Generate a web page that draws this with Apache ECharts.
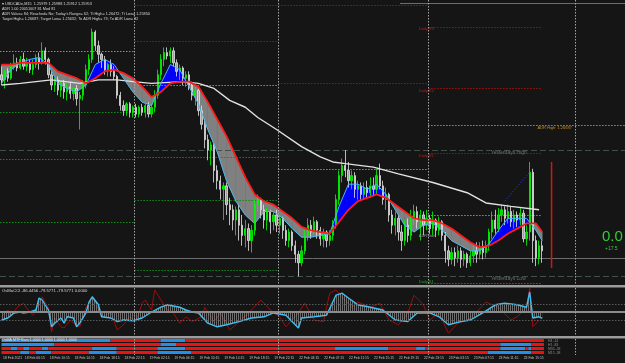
<!DOCTYPE html>
<html><head><meta charset="utf-8">
<script src="https://cdn.jsdelivr.net/npm/echarts/dist/echarts.min.js"></script>
<style>html,body{margin:0;padding:0;background:#151515;}#c{width:625px;height:363px;}</style>
</head><body><div id="c"></div>
<script>
// ---------- DATA ----------
const daySegments = [['18 Feb',2,45,43],['19 Feb',0,15,46],['22 Feb',0,15,48],['23 Feb',0,15,48],['24 Feb',0,15,15]];
const firstTickLabel = '18 Feb 2021';
const lastLabelledBar = 173;

// [open, close, low, high]
const candles = [
[1.2698,1.2695,1.2692,1.2703],[1.2695,1.2700,1.2690,1.2701],[1.2700,1.2696,1.2694,1.2702],[1.2696,1.2703,1.2695,1.2705],
[1.2703,1.2705,1.2701,1.2710],[1.2705,1.2702,1.2700,1.2708],[1.2702,1.2707,1.2701,1.2709],[1.2707,1.2703,1.2701,1.2711],
[1.2703,1.2705,1.2700,1.2708],[1.2705,1.2701,1.2699,1.2707],[1.2701,1.2704,1.2698,1.2707],[1.2704,1.2708,1.2702,1.2710],
[1.2708,1.2705,1.2701,1.2711],[1.2705,1.2712,1.2704,1.2717],[1.2712,1.2707,1.2704,1.2714],[1.2707,1.2698,1.2696,1.2708],
[1.2698,1.2692,1.2689,1.2700],[1.2692,1.2695,1.2688,1.2696],[1.2695,1.2689,1.2686,1.2697],[1.2689,1.2693,1.2685,1.2694],
[1.2693,1.2688,1.2684,1.2695],[1.2688,1.2691,1.2683,1.2693],[1.2691,1.2687,1.2684,1.2694],[1.2687,1.2690,1.2683,1.2691],
[1.2690,1.2684,1.2680,1.2692],[1.2684,1.2686,1.2666,1.2688],[1.2686,1.2692,1.2683,1.2695],[1.2692,1.2701,1.2690,1.2704],
[1.2701,1.2707,1.2698,1.2710],[1.2707,1.2723,1.2705,1.2725],[1.2723,1.2715,1.2712,1.2724],[1.2715,1.2710,1.2705,1.2718],
[1.2710,1.2707,1.2702,1.2711],[1.2707,1.2701,1.2698,1.2709],[1.2701,1.2704,1.2697,1.2705],[1.2704,1.2700,1.2697,1.2707],
[1.2700,1.2697,1.2695,1.2703],[1.2697,1.2686,1.2684,1.2698],[1.2686,1.2680,1.2677,1.2688],[1.2680,1.2677,1.2674,1.2683],
[1.2677,1.2681,1.2674,1.2682],[1.2681,1.2676,1.2673,1.2682],[1.2676,1.2679,1.2673,1.2680],[1.2679,1.2675,1.2673,1.2681],
[1.2675,1.2679,1.2673,1.2680],[1.2679,1.2676,1.2674,1.2681],[1.2676,1.2680,1.2673,1.2681],[1.2680,1.2675,1.2673,1.2682],
[1.2675,1.2679,1.2673,1.2681],[1.2679,1.2686,1.2676,1.2689],[1.2686,1.2698,1.2684,1.2701],[1.2698,1.2707,1.2695,1.2710],
[1.2707,1.2711,1.2703,1.2714],[1.2711,1.2709,1.2707,1.2714],[1.2709,1.2712,1.2705,1.2714],[1.2712,1.2705,1.2703,1.2714],
[1.2705,1.2700,1.2697,1.2707],[1.2700,1.2702,1.2695,1.2704],[1.2702,1.2696,1.2692,1.2703],[1.2696,1.2698,1.2691,1.2700],
[1.2698,1.2692,1.2689,1.2700],[1.2692,1.2686,1.2683,1.2694],[1.2686,1.2689,1.2680,1.2691],[1.2689,1.2677,1.2674,1.2690],
[1.2677,1.2669,1.2666,1.2680],[1.2669,1.2660,1.2655,1.2672],[1.2660,1.2654,1.2648,1.2663],[1.2654,1.2657,1.2645,1.2659],
[1.2657,1.2642,1.2635,1.2658],[1.2642,1.2636,1.2631,1.2645],[1.2636,1.2631,1.2625,1.2639],[1.2631,1.2633,1.2613,1.2635],
[1.2633,1.2622,1.2616,1.2635],[1.2622,1.2619,1.2610,1.2626],[1.2619,1.2613,1.2607,1.2622],[1.2613,1.2619,1.2604,1.2621],
[1.2619,1.2610,1.2601,1.2622],[1.2610,1.2604,1.2598,1.2616],[1.2604,1.2608,1.2597,1.2613],[1.2608,1.2601,1.2595,1.2611],
[1.2601,1.2607,1.2594,1.2610],[1.2607,1.2622,1.2604,1.2625],[1.2622,1.2625,1.2618,1.2628],[1.2625,1.2619,1.2614,1.2626],
[1.2619,1.2613,1.2608,1.2622],[1.2613,1.2618,1.2607,1.2620],[1.2618,1.2612,1.2605,1.2619],[1.2612,1.2616,1.2607,1.2618],
[1.2616,1.2610,1.2606,1.2619],[1.2610,1.2614,1.2605,1.2616],[1.2614,1.2607,1.2602,1.2615],[1.2607,1.2601,1.2598,1.2610],
[1.2601,1.2606,1.2597,1.2608],[1.2606,1.2598,1.2595,1.2607],[1.2598,1.2593,1.2588,1.2601],[1.2593,1.2588,1.2580,1.2595],
[1.2588,1.2595,1.2586,1.2598],[1.2595,1.2604,1.2593,1.2607],[1.2604,1.2610,1.2601,1.2614],[1.2610,1.2606,1.2602,1.2613],
[1.2606,1.2612,1.2604,1.2615],[1.2612,1.2607,1.2602,1.2613],[1.2607,1.2602,1.2598,1.2609],[1.2602,1.2606,1.2597,1.2608],
[1.2606,1.2601,1.2597,1.2607],[1.2601,1.2604,1.2598,1.2607],[1.2604,1.2610,1.2601,1.2613],[1.2610,1.2625,1.2608,1.2628],
[1.2625,1.2639,1.2622,1.2642],[1.2639,1.2645,1.2635,1.2649],[1.2645,1.2642,1.2638,1.2654],[1.2642,1.2636,1.2632,1.2647],
[1.2636,1.2639,1.2631,1.2642],[1.2639,1.2631,1.2626,1.2641],[1.2631,1.2633,1.2625,1.2636],[1.2633,1.2628,1.2625,1.2635],
[1.2628,1.2632,1.2625,1.2635],[1.2632,1.2629,1.2626,1.2636],[1.2629,1.2633,1.2626,1.2638],[1.2633,1.2631,1.2627,1.2638],
[1.2631,1.2639,1.2628,1.2643],[1.2639,1.2633,1.2631,1.2646],[1.2633,1.2625,1.2622,1.2636],[1.2625,1.2628,1.2619,1.2632],
[1.2628,1.2616,1.2612,1.2629],[1.2616,1.2610,1.2605,1.2619],[1.2610,1.2614,1.2604,1.2618],[1.2614,1.2606,1.2601,1.2616],
[1.2606,1.2601,1.2595,1.2610],[1.2601,1.2610,1.2598,1.2613],[1.2610,1.2604,1.2600,1.2614],[1.2604,1.2613,1.2601,1.2619],
[1.2613,1.2618,1.2610,1.2622],[1.2618,1.2612,1.2608,1.2621],[1.2612,1.2616,1.2601,1.2619],[1.2616,1.2610,1.2604,1.2618],
[1.2610,1.2614,1.2607,1.2619],[1.2614,1.2608,1.2605,1.2616],[1.2608,1.2613,1.2604,1.2618],[1.2613,1.2607,1.2603,1.2614],
[1.2607,1.2612,1.2604,1.2615],[1.2612,1.2604,1.2601,1.2613],[1.2604,1.2595,1.2588,1.2606],[1.2595,1.2590,1.2586,1.2598],
[1.2590,1.2594,1.2587,1.2597],[1.2594,1.2591,1.2586,1.2597],[1.2591,1.2595,1.2588,1.2598],[1.2595,1.2590,1.2585,1.2597],
[1.2590,1.2593,1.2586,1.2595],[1.2593,1.2588,1.2585,1.2594],[1.2588,1.2592,1.2586,1.2595],[1.2592,1.2595,1.2588,1.2598],
[1.2595,1.2593,1.2588,1.2600],[1.2593,1.2597,1.2590,1.2600],[1.2597,1.2594,1.2590,1.2601],[1.2594,1.2598,1.2591,1.2601],
[1.2598,1.2606,1.2595,1.2608],[1.2606,1.2613,1.2602,1.2618],[1.2613,1.2608,1.2605,1.2619],[1.2608,1.2616,1.2606,1.2620],
[1.2616,1.2619,1.2612,1.2622],[1.2619,1.2614,1.2610,1.2621],[1.2614,1.2618,1.2611,1.2622],[1.2618,1.2612,1.2609,1.2621],
[1.2612,1.2616,1.2608,1.2619],[1.2616,1.2613,1.2609,1.2618],[1.2613,1.2617,1.2610,1.2620],[1.2617,1.2602,1.2600,1.2619],
[1.2602,1.2606,1.2598,1.2610],[1.2606,1.2641,1.2601,1.2647],[1.2641,1.2601,1.2588,1.2643],[1.2601,1.2591,1.2586,1.2604],
[1.2591,1.2598,1.2587,1.2601],[1.2598,1.2595,1.2588,1.2601]
];

// moving averages [barIndex, price]
const slowMA = [[0,1.2704],[3,1.2704],[6,1.2705],[9,1.2705],[12,1.2705],[15,1.2705],[18,1.2700],[21,1.2698],[24,1.2696],[27,1.2693],[30,1.2696],[33,1.2700],[36,1.2701],[39,1.2699],[42,1.2696],[45,1.2691],[48,1.2685],[51,1.2688],[54,1.2693],[57,1.2694],[60,1.2694],[63,1.2691],[66,1.2682],[69,1.2672],[72,1.2662],[75,1.2650],[78,1.2638],[81,1.2628],[84,1.2624],[87,1.2622],[90,1.2618],[93,1.2614],[96,1.2609],[99,1.2607],[102,1.2606],[105,1.2605],[108,1.2612],[111,1.2619],[114,1.2624],[117,1.2626],[120,1.2628],[123,1.2626],[126,1.2622],[129,1.2618],[132,1.2614],[135,1.2613],[138,1.2613],[141,1.2611],[144,1.2608],[147,1.2604],[150,1.2600],[153,1.2597],[156,1.2598],[159,1.2601],[162,1.2605],[165,1.2608],[168,1.2611],[171,1.2611],[173,1.2606]];
const fastMA = [[0,1.2693],[3,1.2701],[6,1.2705],[9,1.2707],[12,1.2708],[15,1.2704],[18,1.2693],[21,1.2690],[24,1.2688],[27,1.2692],[30,1.2704],[33,1.2707],[36,1.2704],[39,1.2696],[42,1.2688],[45,1.2682],[48,1.2680],[51,1.2693],[54,1.2704],[57,1.2701],[60,1.2691],[63,1.2681],[66,1.2666],[69,1.2653],[72,1.2636],[75,1.2624],[78,1.2616],[81,1.2611],[84,1.2618],[87,1.2618],[90,1.2614],[93,1.2608],[96,1.2603],[99,1.2603],[102,1.2604],[105,1.2605],[108,1.2621],[111,1.2634],[114,1.2634],[117,1.2631],[120,1.2634],[123,1.2628],[126,1.2619],[129,1.2610],[132,1.2606],[135,1.2610],[138,1.2611],[141,1.2607],[144,1.2601],[147,1.2598],[150,1.2595],[153,1.2595],[156,1.2599],[159,1.2607],[162,1.2614],[165,1.2614],[168,1.2614],[171,1.2607],[173,1.2601]];
const longMA = [[0,1.2692],[6,1.2693],[16,1.2695],[25,1.2693],[31,1.2695],[37,1.2695],[42,1.2694],[48,1.2693],[58,1.2694],[63,1.2693],[68,1.2690],[73,1.2683],[78,1.2679],[82,1.2673],[88,1.2666],[96,1.2656],[102,1.2650],[106,1.2647],[110,1.2646],[119,1.2644],[127,1.2640],[138,1.2635],[149,1.2629],[155,1.2623],[163,1.2621],[172,1.2619]];

// levels [startBar, endBar, price, kind]
const yesterdayHigh = 1.2654, yesterdayLow = 1.2580, greyLevel = 1.2591;
const pivotLevels = [
[0,42,1.2712,'P'],[0,42,1.2676,'S'],[0,42,1.2649,'S'],[0,42,1.2612,'S'],
[43,88,1.2718,'R'],[43,88,1.2692,'P'],[43,88,1.2650,'S'],[43,88,1.2625,'S'],[43,88,1.2584,'S'],
[89,136,1.2693,'R'],[89,136,1.2643,'P'],
[137,172,1.2726,'R'],[137,172,1.2690,'R'],[137,172,1.2652,'R'],[137,172,1.2616,'P'],[137,172,1.2576,'S'],
[137,199,1.26687,'A'],[43,136,1.2739,'R'],[128,199,1.2740,'G'],
[0,199,yesterdayHigh,'D'],[0,199,yesterdayLow,'D'],[0,199,greyLevel,'G']
];
// [text, bar, price, colour, dy, size]
const levelLabels = [
['Daily R3',134,1.2726,'#c41c1c',2,4],['Daily R2',134,1.2690,'#c41c1c',2.5,4],['Daily R1',134,1.2652,'#c41c1c',2,4],
['Daily S1',134,1.2576,'#24a624',-1.5,4],['ADR High: 1.26687',172,1.26687,'#cc9020',3.5,4],
['Yesterdays High',157,1.2654,'#6e6e6e',3,5],['Yesterdays Low',157,1.2580,'#6e6e6e',2,5],['ADRStart',134,1.2604,'#9a9a9a',0,4]
];
const separatorBars = [43,89,137,184];
const todayRangeBar = 176, todayRange = [1.2585,1.2647];
const tradeLine = [[161,1.2624],[169,1.2641]];

// oscillator [barIndex, value]
const oscLevels = [-100,0,100];
const oscFast = [[0,-100],[2,-75],[4,-12],[6,0],[7,-12],[9,0],[11,25],[12,175],[13,150],[15,25],[16,-185],[17,-140],[19,-75],[20,-140],[21,-60],[23,-75],[24,-185],[25,-140],[27,-12],[28,125],[29,190],[31,90],[32,-60],[35,-75],[37,-120],[39,-100],[42,-110],[45,-75],[48,0],[51,60],[53,90],[55,75],[57,60],[59,25],[61,0],[63,-12],[66,-140],[69,-185],[72,-160],[76,-120],[80,-75],[84,-60],[87,-12],[91,-40],[95,-200],[96,-75],[100,-60],[104,-40],[107,210],[109,235],[111,175],[114,90],[118,60],[122,25],[126,-100],[130,-120],[133,-12],[137,-12],[140,-60],[143,-160],[147,-120],[150,-100],[154,-12],[158,90],[161,110],[165,90],[168,60],[169,250],[170,-75],[172,-60],[173,-80]];
const oscRaw = [[0,-60],[2,25],[3,-60],[5,60],[7,110],[8,50],[10,-40],[12,110],[13,190],[15,50],[16,-250],[17,-75],[19,-185],[20,-200],[22,-100],[23,-140],[25,-185],[27,60],[28,110],[29,175],[30,125],[32,-60],[35,-12],[37,-225],[39,-160],[41,-60],[43,-120],[45,110],[46,150],[48,25],[49,275],[51,150],[53,25],[55,-12],[57,-140],[59,-60],[61,-120],[64,-60],[65,60],[68,-120],[70,-12],[73,-225],[76,-120],[80,25],[83,150],[86,25],[89,-60],[91,-185],[95,-12],[97,110],[100,-100],[103,-120],[105,235],[107,275],[109,190],[112,60],[114,125],[118,60],[121,110],[124,-100],[127,-160],[130,-12],[132,210],[135,90],[137,-100],[140,-12],[143,-265],[146,-140],[149,-100],[152,0],[155,125],[159,60],[163,-100],[165,-60],[168,60],[169,300],[170,-185],[172,-100]];

// multi-timeframe rows: [startBar, endBar, state] 1 = up (blue), 0 = down (red)
const mtfRow1 = [[0,34,1],[35,50,0],[51,58,1],[59,173,0]];
const mtfRow2 = [[0,16,1],[17,50,0],[51,55,1],[56,159,0],[160,169,1],[170,173,0]];
const mtfRow3 = [[0,2,0],[3,4,1],[5,6,0],[7,8,1],[9,12,0],[13,14,1],[15,28,0],[29,36,1],[37,49,0],[50,58,1],[59,106,0],[107,123,1],[124,132,0],[133,135,1],[136,159,0],[160,167,1],[168,168,0],[169,169,1],[170,173,0]];
const mtfRow4 = [[0,5,0],[6,8,1],[9,10,0],[11,15,1],[16,27,0],[28,36,1],[37,49,0],[50,60,1],[61,155,0],[156,169,1],[170,173,0]];
const mtfLabels = ['H4 -14','H1 -83','M30 -58','M15 -38'];

const headerLines = [
'\u25BE USDCADe,M15  1.25979 1.25988 1.25912 1.25953',
'ADR 1.00 20051007 81 Mod 81',
'ADR Value= 84; Reached= No; Today\'s Range= 62; Tt High= 1.26472; Tt Low= 1.25850',
'Target High= 1.26687; Target Low= 1.25632; To ADR High= 73; To ADR Low= 32'
];
const oscTitle = 'OsMaCCI -86.4456 -79.5771 -79.5771 0.0000';
const mtfTitle = 'OsMA MTF Bars 1.0000 1.0000 1.0000 1.0000';
const bigValue = '0.0', smallValue = '+17.5';

// ---------- BUILD ----------
const categories = [];
daySegments.forEach(([day,h,m,n]) => {
  let t = h*60+m;
  for (let k=0;k<n;k++){ categories.push(day+' '+String(Math.floor(t/60)).padStart(2,'0')+':'+String(t%60).padStart(2,'0')); t+=30; }
});
const priceMin = 1.2575, priceMax = 1.2740;
const FONT = 'Liberation Sans';
const levelStyles = {
  R:{color:'#a01010',dash:[1.5,1.5]}, P:{color:'#9c9c14',dash:[1.5,1.5]}, S:{color:'#128a1c',dash:[1.5,1.5]},
  A:{color:'#c08a14',dash:[1.5,1.5]}, G:{color:'#6c6c6c',dash:null}, D:{color:'#3e5246',dash:[6,3]}
};
const bandData = slowMA.map((p,j)=>[p[0],p[1],fastMA[j][1]]);
const mtfRuns = [];
[mtfRow1,mtfRow2,mtfRow3,mtfRow4].forEach((row,r)=>row.forEach(s=>mtfRuns.push([s[0],r,s[1],s[2]])));

// hatch pattern for histogram
const hatch = document.createElement('canvas'); hatch.width=2; hatch.height=2;
const hc = hatch.getContext('2d'); hc.fillStyle='rgba(170,170,170,0.85)'; hc.fillRect(0,0,1,2);

const chart = echarts.init(document.getElementById('c'));
const xAx = g => ({type:'category',gridIndex:g,data:categories,boundaryGap:true,axisLine:{show:false},axisTick:{show:false},splitLine:{show:false},
  axisLabel: g===2 ? {show:true,interval:(i)=> i===0 || (i%8===7 && i<=lastLabelledBar), formatter:(v,i)=> i===0?firstTickLabel:v,
    color:'#c4c4c4',fontSize:3.4,fontFamily:FONT,margin:2,align:'left'} : {show:false}});

const textEl = (t,x,y,size,fill) => ({type:'text',z:100,style:{text:t,x:x,y:y,fill:fill,fontSize:size,fontFamily:FONT,align:'left',textAlign:'left',verticalAlign:'middle',textVerticalAlign:'middle'}});

const graphics = [
  {type:'rect',z:50,shape:{x:0,y:285,width:625,height:2.5},style:{fill:'#9c9c9c'}},
  {type:'rect',z:50,shape:{x:0,y:336,width:625,height:2.5},style:{fill:'#9c9c9c'}},
];
headerLines.forEach((t,k)=>graphics.push(textEl(t,2,4.2+k*5,3.8,'#d8d8d8')));
graphics.push(textEl(oscTitle,2,290.5,4.2,'#d8d8d8'));
graphics.push(textEl(mtfTitle,2,340.2,3.6,'#e8e8e8'));
mtfLabels.forEach((t,k)=>graphics.push(textEl(t,548,341+k*4,3.4,'#8c8c8c')));
graphics.push(textEl(bigValue,602,237,15,'#30d030'));
graphics.push(textEl(smallValue,605,248.5,5,'#30d030'));

const option = {
  backgroundColor:'#151515',
  animation:false,
  grid:[{left:0,right:0,top:3,height:282},{left:0,right:0,top:288,height:48},{left:0,right:0,top:338.5,height:16}],
  xAxis:[xAx(0),xAx(1),xAx(2)],
  yAxis:[{gridIndex:0,min:priceMin,max:priceMax,show:false},{gridIndex:1,min:-300,max:300,show:false},{gridIndex:2,min:0,max:4,inverse:true,show:false}],
  graphic:graphics,
  series:[
    {type:'custom',name:'band',xAxisIndex:0,yAxisIndex:0,z:1,clip:true,data:bandData,encode:{x:0,y:[1,2]},
     renderItem:(params,api)=>{
       const j=params.dataIndex; if (j>=bandData.length-1) return null;
       const a=bandData[j], b=bandData[j+1];
       const ra=api.coord([a[0],a[1]]), ca=api.coord([a[0],a[2]]), rb=api.coord([b[0],b[1]]), cb=api.coord([b[0],b[2]]);
       const da=ra[1]-ca[1], db=rb[1]-cb[1];
       const col=d=> d>0 ? '#0000ff' : '#808080';
       const poly=(pts,f)=>({type:'polygon',shape:{points:pts},style:{fill:f,stroke:f,lineWidth:0.6}});
       const ch=[];
       if (da*db>=0) ch.push(poly([ra,rb,cb,ca],col(da+db)));
       else { const t=da/(da-db); const m=[ra[0]+(rb[0]-ra[0])*t, ra[1]+(rb[1]-ra[1])*t];
         ch.push(poly([ra,m,ca],col(da))); ch.push(poly([m,rb,cb],col(db))); }
       return {type:'group',children:ch};
     }},
    {type:'custom',name:'levels',xAxisIndex:0,yAxisIndex:0,z:2,clip:false,data:pivotLevels.map(l=>[l[0],l[2],l[1]]),encode:{x:[0,2],y:1},
     renderItem:(params,api)=>{
       const l=pivotLevels[params.dataIndex]; const st=levelStyles[l[3]];
       const p1=api.coord([l[0],l[2]]), p2=api.coord([l[1],l[2]]); const bw=api.size([1,0])[0];
       const y=Math.round(p1[1])+0.5;
       return {type:'line',shape:{x1:p1[0]-bw/2,y1:y,x2:p2[0]+bw/2,y2:y},style:{stroke:st.color,lineWidth:1,lineDash:st.dash}};
     }},
    {type:'candlestick',xAxisIndex:0,yAxisIndex:0,z:3,data:candles,barWidth:1.8,
     itemStyle:{color:'#00d400',color0:'#a0a0a0',borderColor:'#00ff00',borderColor0:'#e4e4e4',borderWidth:0.8}},
    {type:'line',xAxisIndex:0,yAxisIndex:0,z:4,data:longMA,showSymbol:false,symbol:'none',lineStyle:{color:'#e2e2e2',width:1.4}},
    {type:'line',xAxisIndex:0,yAxisIndex:0,z:4,data:fastMA,showSymbol:false,symbol:'none',lineStyle:{color:'#4ab8ec',width:1}},
    {type:'line',xAxisIndex:0,yAxisIndex:0,z:5,data:slowMA,showSymbol:false,symbol:'none',lineStyle:{color:'#ff1a1a',width:1.8}},
    {type:'custom',name:'labels',xAxisIndex:0,yAxisIndex:0,z:6,clip:false,data:levelLabels.map(l=>[l[1],l[2]]),encode:{x:0,y:1},
     renderItem:(params,api)=>{
       const l=levelLabels[params.dataIndex]; const p=api.coord([l[1],l[2]]); const bw=api.size([1,0])[0];
       return {type:'text',style:{text:l[0],x:p[0]-bw/2,y:p[1]+l[4],fill:l[3],fontSize:l[5],fontFamily:FONT,align:'left',textAlign:'left',verticalAlign:'middle',textVerticalAlign:'middle'}};
     }},
    {type:'custom',name:'separators',xAxisIndex:0,yAxisIndex:0,z:7,clip:false,data:separatorBars.map(k=>[k,priceMin]),encode:{x:0,y:1},
     renderItem:(params,api)=>{
       const k=separatorBars[params.dataIndex]; const a=api.coord([k-1,priceMin]), b=api.coord([k,priceMin]);
       const x=Math.round((a[0]+b[0])/2)+0.5;
       return {type:'line',shape:{x1:x,y1:0,x2:x,y2:355},style:{stroke:'#a4a4a4',lineWidth:1,lineDash:[1.5,1.5]}};
     }},
    {type:'line',xAxisIndex:0,yAxisIndex:0,z:6,data:todayRange.map(v=>[todayRangeBar,v]),showSymbol:false,symbol:'none',lineStyle:{color:'#e01010',width:1.5}},
    {type:'line',xAxisIndex:0,yAxisIndex:0,z:6,data:tradeLine,symbol:'rect',symbolSize:3,showSymbol:true,
     lineStyle:{color:'#2434b8',width:1,type:[1.5,1.5]},
     itemStyle:{color:(p)=> p.dataIndex===0?'#6a7cff':'#e8c870'}},
    {type:'line',xAxisIndex:1,yAxisIndex:1,z:3,data:oscFast,showSymbol:false,symbol:'none',
     lineStyle:{color:'#3ec0f2',width:1.4},areaStyle:{color:{image:hatch,repeat:'repeat'}},
     markLine:{silent:true,symbol:'none',label:{show:false},precision:4,
       data:[{yAxis:oscLevels[0],lineStyle:{type:[1.5,1.5],color:'#5a5a5a',width:1}},
             {yAxis:oscLevels[1],lineStyle:{type:'solid',color:'#8c8c8c',width:2}},
             {yAxis:oscLevels[2],lineStyle:{type:[1.5,1.5],color:'#5a5a5a',width:1}}]}},
    {type:'line',xAxisIndex:1,yAxisIndex:1,z:2,data:oscRaw,showSymbol:false,symbol:'none',lineStyle:{color:'#a00c0c',width:1}},
    {type:'custom',name:'mtf',xAxisIndex:2,yAxisIndex:2,z:3,data:mtfRuns.map(r=>[r[0],r[1],r[2]]),encode:{x:[0,2],y:1},
     renderItem:(params,api)=>{
       const r=mtfRuns[params.dataIndex]; const bw=api.size([1,0])[0];
       const a=api.coord([r[0],r[1]+0.12]), b=api.coord([r[2],r[1]+0.88]);
       return {type:'rect',shape:{x:a[0]-bw/2,y:a[1],width:b[0]-a[0]+bw,height:b[1]-a[1]},style:{fill:r[3]?'#2a8ce6':'#e81414'}};
     }}
  ]
};
chart.setOption(option);
</script></body></html>
